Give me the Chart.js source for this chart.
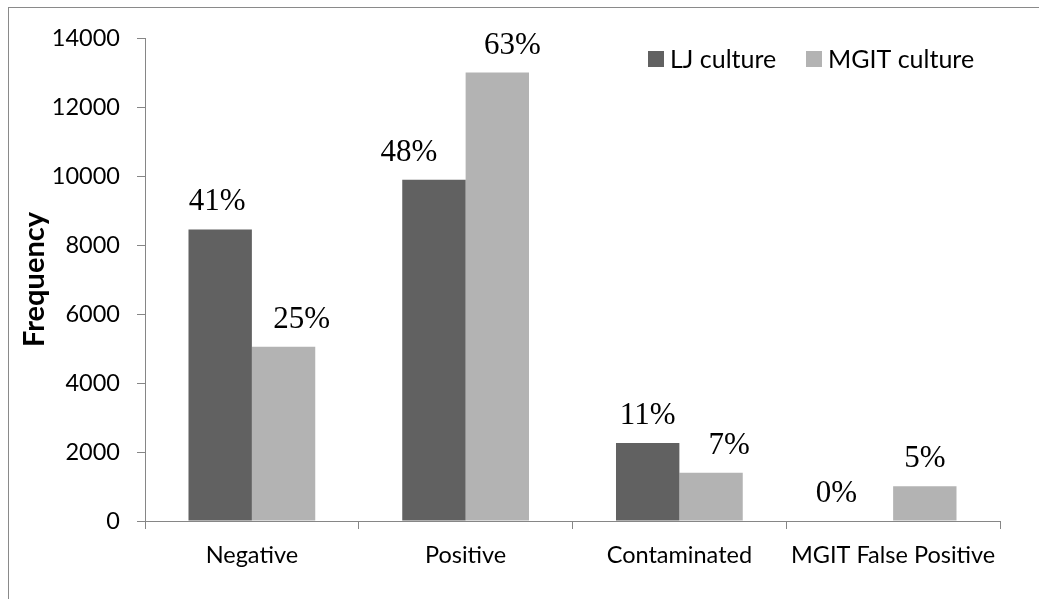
<!DOCTYPE html>
<html>
<head>
<meta charset="utf-8">
<script src="https://cdn.jsdelivr.net/npm/chart.js@4.4.1/dist/chart.umd.min.js"></script>
<style>
  html, body { margin: 0; padding: 0; background: #fff; }
  #wrap { width: 1039px; height: 599px; position: relative; }
</style>
</head>
<body>
<div id="wrap"><canvas id="chart" width="1039" height="599"></canvas></div>
<script>
// données
const categories = ['Negative', 'Positive', 'Contaminated', 'MGIT False Positive'];
const ljCulture = [8450, 9890, 2260, 0];
const mgitCulture = [5050, 13000, 1400, 1010];
const ljPercent = ['41%', '48%', '11%', '0%'];
const mgitPercent = ['25%', '63%', '7%', '5%'];
const yTicks = [0, 2000, 4000, 6000, 8000, 10000, 12000, 14000];

const axisGray = '#868686';

// cadre, étiquettes en pourcentage et légende
const decorPlugin = {
    id: 'decor',
    beforeDraw(chart) {
        const c = chart.ctx;
        c.save();
        c.strokeStyle = '#8a8a8a';
        c.lineWidth = 1;
        c.strokeRect(8.5, 7.5, 1200, 800);
        c.restore();
    },
    afterDatasetsDraw(chart, args, opts) {
        const c = chart.ctx;
        c.save();
        c.font = '31px "Liberation Serif", "Times New Roman", serif';
        c.fillStyle = '#000';
        c.textAlign = 'center';
        c.textBaseline = 'alphabetic';
        chart.data.datasets.forEach((ds, i) => {
            const meta = chart.getDatasetMeta(i);
            meta.data.forEach((bar, j) => {
                const dx = opts.nudge[i][j];
                c.fillText(ds.pct[j], bar.x + dx, bar.y - 19);
            });
        });
        // légende
        c.font = '25px Lato, sans-serif';
        c.textAlign = 'left';
        c.textBaseline = 'middle';
        const items = opts.legend;
        chart.data.datasets.forEach((ds, i) => {
            const x = items[i];
            c.fillStyle = ds.backgroundColor;
            c.fillRect(x, 51, 16, 16);
            c.fillStyle = '#000';
            c.fillText(ds.label, x + 22, 60);
        });
        c.restore();
    }
};

const ctx = document.getElementById('chart').getContext('2d');
const chart = new Chart(ctx, {
    type: 'bar',
    data: {
        labels: categories,
        datasets: [{
            label: 'LJ culture',
            data: ljCulture,
            pct: ljPercent,
            backgroundColor: '#616161'
        }, {
            label: 'MGIT culture',
            data: mgitCulture,
            pct: mgitPercent,
            backgroundColor: '#b3b3b3'
        }]
    },
    options: {
        responsive: false,
        animation: false,
        categoryPercentage: 0.593,
        barPercentage: 1,
        layout: { padding: { left: 0, top: 38, right: 39, bottom: 0 } },
        plugins: {
            legend: { display: false },
            tooltip: { enabled: false },
            decor: {
                nudge: [[-3, -25, 0, -25], [18, 15, 18, 0]],
                legend: [648, 806]
            }
        },
        scales: {
            x: {
                grid: { display: true, drawOnChartArea: false, tickLength: 8, color: axisGray, offset: true },
                border: { display: true, color: axisGray },
                ticks: { color: '#000', font: { family: 'Lato', size: 23.5 }, padding: 12, maxRotation: 0 },
                afterFit(scale) { scale.height = 78; }
            },
            y: {
                min: 0,
                max: 14000,
                afterBuildTicks(scale) { scale.ticks = yTicks.map(v => ({ value: v })); },
                grid: { display: true, drawOnChartArea: false, tickLength: 8, color: axisGray },
                border: { display: true, color: axisGray },
                ticks: {
                    color: '#000',
                    font: { family: 'Lato', size: 23.5 },
                    padding: 17,
                    callback: v => String(v)
                },
                title: {
                    display: true,
                    text: 'Frequency',
                    color: '#000',
                    font: { family: 'Lato', size: 29, weight: 'bold' },
                    padding: { top: 17, bottom: 0 }
                },
                afterFit(scale) { scale.width = 145; }
            }
        }
    },
    plugins: [decorPlugin]
});
</script>
</body>
</html>
